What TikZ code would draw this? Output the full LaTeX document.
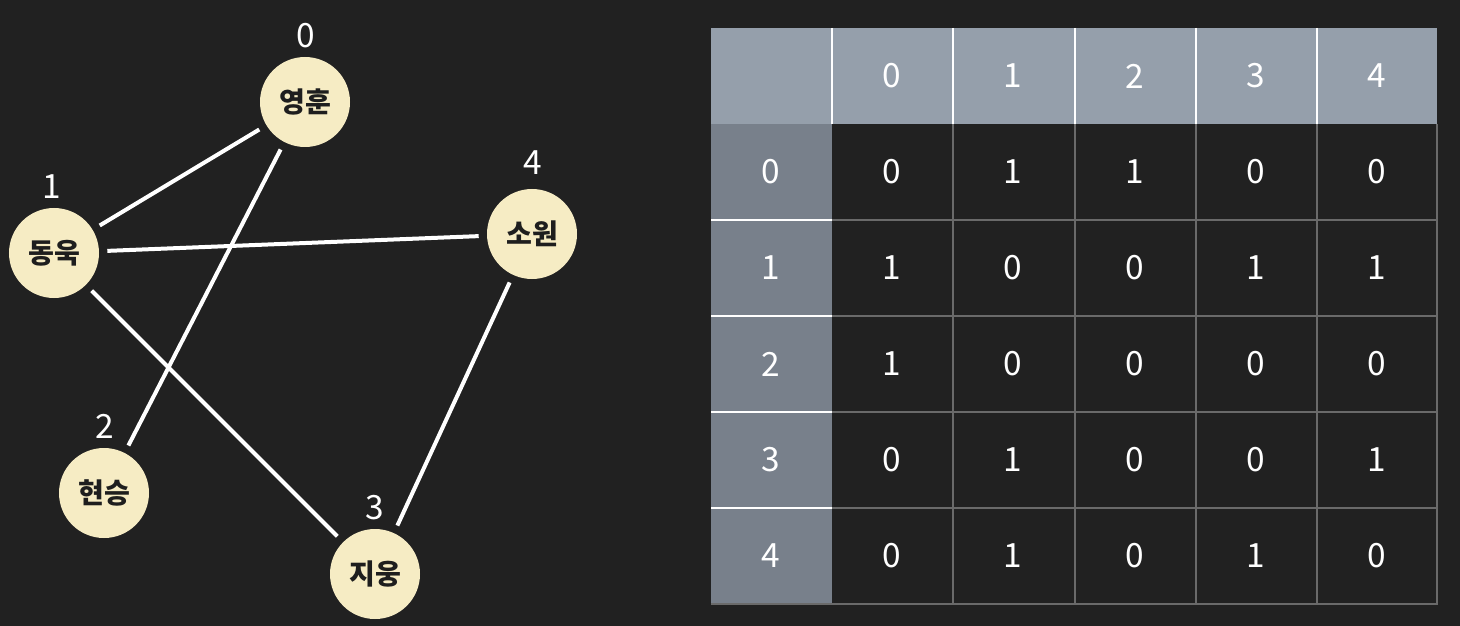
\documentclass[tikz,border=0pt]{standalone}
\usepackage{fontspec}
\setmainfont{Noto Sans CJK KR}
\usetikzlibrary{positioning}
\definecolor{boardBg}{HTML}{212121}
\definecolor{nodeCream}{HTML}{F6ECC4}
\definecolor{nodeInk}{HTML}{1E1E1E}
\definecolor{headGray}{HTML}{959FAB}
\definecolor{sideGray}{HTML}{78808B}
\definecolor{gridGray}{HTML}{6A6A6A}

\begin{document}
\begin{tikzpicture}[
    x=0.2mm, y=-0.2mm,
    person/.style={circle, fill=nodeCream, minimum size=18mm, inner sep=0pt,
        text=nodeInk, font=\fontsize{16}{18}\selectfont\bfseries},
    idx/.style={text=white, inner sep=0pt, font=\fontsize{19}{21}\selectfont},
    cell/.style={text=white, inner sep=0pt, font=\fontsize{19}{21}\selectfont},
    edge/.style={draw=white, line width=0.8mm, shorten <=1.6mm, shorten >=1.6mm},
    whiteline/.style={draw=white, line width=0.35mm},
    gridline/.style={draw=gridGray, line width=0.25mm},
]
% 배경
\fill[boardBg] (0,0) rectangle (1460,626);
% 그래프: 정점
\node[person] (v0) at (305,102) {영훈};
\node[person] (v1) at (54,253)  {동욱};
\node[person] (v2) at (104,493) {현승};
\node[person] (v3) at (375,574) {지웅};
\node[person] (v4) at (532,234) {소원};
% 정점 번호
\node[idx] (n0) at (306,36)  {0};
\node[idx] (n1) at (52,187)  {1};
\node[idx] (n2) at (105,426) {2};
\node[idx] (n3) at (375,508) {3};
\node[idx] (n4) at (533,163) {4};
% 간선
\draw[edge] (v0) -- (v1);
\draw[edge] (v0) -- (v2);
\draw[edge] (v1) -- (v4);
\draw[edge] (v1) -- (v3);
\draw[edge] (v4) -- (v3);
% 인접 행렬
\fill[headGray] (711,28) rectangle (1437,124);
\fill[sideGray] (711,124) rectangle (832,604);
\foreach \x in {953,1075,1196,1317}
    \draw[gridline] (\x,124) -- (\x,604);
\foreach \y in {220,316,412,508}
    \draw[gridline] (832,\y) -- (1437,\y);
\draw[gridline] (1437,124) -- (1437,604) -- (711,604);
\foreach \x in {832,953,1075,1196,1317}
    \draw[whiteline] (\x,28) -- (\x,124);
\foreach \y in {220,316,412,508}
    \draw[whiteline] (711,\y) -- (832,\y);
% 머리글
\foreach \c in {0,...,4} {
    \node[cell] (h-\c) at (892+121.2*\c,76) {\c};
    \node[cell] (s-\c) at (771,172+96*\c) {\c};
}
% 값
\foreach \r/\vals in {0/{0,1,1,0,0}, 1/{1,0,0,1,1}, 2/{1,0,0,0,0}, 3/{0,1,0,0,1}, 4/{0,1,0,1,0}}
    \foreach \v [count=\c from 0] in \vals
        \node[cell] (m-\r-\c) at (892+121.2*\c,172+96*\r) {\v};
\end{tikzpicture}
\end{document}
